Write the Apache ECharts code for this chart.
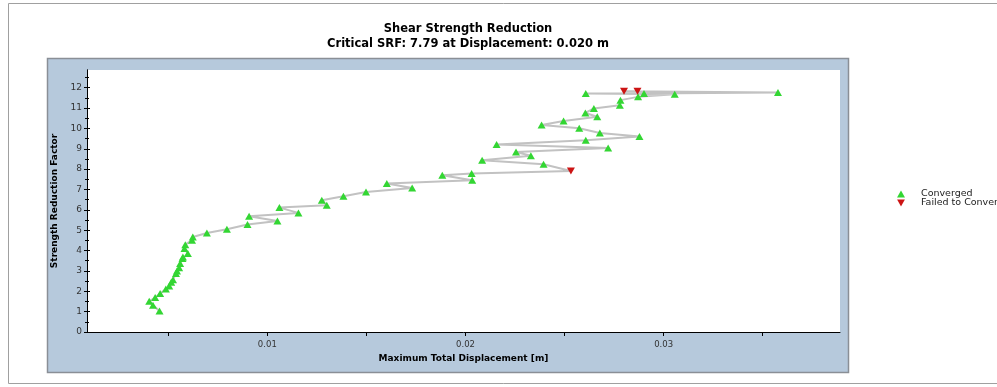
<!DOCTYPE html>
<html>
<head>
<meta charset="utf-8">
<script src="https://cdn.jsdelivr.net/npm/echarts@6/dist/echarts.min.js"></script>
<style>
  html, body { margin: 0; padding: 0; background: #ffffff; }
  #chart { width: 997px; height: 387px; }
</style>
</head>
<body>
<div id="chart"></div>
<script>
// Strength Reduction Factor (SRF) for each computed stage, in order
const srf = [1.03, 1.31, 1.51, 1.69, 1.89, 2.11, 2.26, 2.44, 2.57, 2.87,
             3.00, 3.16, 3.36, 3.61, 3.69, 3.85, 4.10, 4.29, 4.51, 4.67,
             4.86, 5.05, 5.28, 5.45, 5.69, 5.85, 6.11, 6.23, 6.47, 6.67,
             6.88, 7.07, 7.29, 7.45, 7.70, 7.79, 7.91, 8.24, 8.44, 8.66,
             8.84, 9.04, 9.21, 9.42, 9.60, 9.78, 10.01, 10.17, 10.36, 10.57,
             10.76, 10.98, 11.14, 11.39, 11.55, 11.68, 11.71, 11.72, 11.76, 11.83,
             11.83];
// Maximum total displacement [m] for each stage
const displacement = [0.00456, 0.00423, 0.00404, 0.00434, 0.00459, 0.00488, 0.00505, 0.00515, 0.00524, 0.00539,
                      0.00544, 0.00555, 0.00560, 0.00572, 0.00574, 0.00599, 0.00582, 0.00586, 0.00620, 0.00624,
                      0.00695, 0.00796, 0.00900, 0.01051, 0.00908, 0.01157, 0.01061, 0.01300, 0.01275, 0.01384,
                      0.01498, 0.01731, 0.01603, 0.02034, 0.01883, 0.02031, 0.02532, 0.02394, 0.02084, 0.02330,
                      0.02255, 0.02720, 0.02157, 0.02607, 0.02878, 0.02678, 0.02574, 0.02384, 0.02495, 0.02665,
                      0.02605, 0.02648, 0.02779, 0.02782, 0.02871, 0.03056, 0.02607, 0.02901, 0.03577, 0.02800,
                      0.02868];
// 1 = converged, 0 = failed to converge
const convergedFlag = [1,1,1,1,1,1,1,1,1,1,
                       1,1,1,1,1,1,1,1,1,1,
                       1,1,1,1,1,1,1,1,1,1,
                       1,1,1,1,1,1,0,1,1,1,
                       1,1,1,1,1,1,1,1,1,1,
                       1,1,1,1,1,1,1,1,1,0,
                       0];
const yTickValues = [0,1,2,3,4,5,6,7,8,9,10,11,12];
const xTickValues = [0.005, 0.01, 0.015, 0.02, 0.025, 0.03, 0.035];
const xLabelValues = [0.01, 0.02, 0.03];
const titleText = 'Shear Strength Reduction';
const subTitleText = 'Critical SRF: 7.79 at Displacement: 0.020 m';

const allPts = srf.map((s, i) => [displacement[i], s]);
const convPts = allPts.filter((p, i) => convergedFlag[i] === 1);
const failPts = allPts.filter((p, i) => convergedFlag[i] === 0);

const FONT = 'DejaVu Sans';
const chart = echarts.init(document.getElementById('chart'), null, { renderer: 'canvas' });

const commonY = {
  type: 'value', min: 0, max: 12.87, interval: 1, position: 'left',
  axisLine: { show: true, onZero: false, lineStyle: { color: '#000', width: 1 } },
  splitLine: { show: false },
  minorSplitLine: { show: false }
};

chart.setOption({
  animation: false,
  backgroundColor: '#ffffff',
  textStyle: { fontFamily: FONT },
  graphic: [
    { type: 'rect', z: -20, shape: { x: 8.5, y: 3.5, width: 1000, height: 380 },
      style: { fill: '#ffffff', stroke: '#a0a0a0', lineWidth: 1 } },
    { type: 'rect', z: -10, shape: { x: 47.5, y: 58.5, width: 801, height: 314 },
      style: { fill: '#b6c9dc', stroke: '#8a8f96', lineWidth: 1.5 } }
  ],
  title: [
    { text: titleText, left: 463, top: 18, textAlign: 'center',
      textStyle: { fontFamily: FONT, fontWeight: 'bold', fontSize: 11.5, color: '#000' } },
    { text: subTitleText, left: 463, top: 33, textAlign: 'center',
      textStyle: { fontFamily: FONT, fontWeight: 'bold', fontSize: 11.5, color: '#000' } }
  ],
  legend: {
    orient: 'vertical', left: 892, top: 184, itemWidth: 8, itemHeight: 7, itemGap: -1,
    textStyle: { fontFamily: FONT, fontSize: 9.5, lineHeight: 8, color: '#222', padding: [0, 0, 0, 11] },
    data: [
      { name: 'Converged', icon: 'triangle', itemStyle: { color: '#33d633' } },
      { name: 'Failed to Converge', icon: 'path://M0,0L10,0L5,9Z', itemStyle: { color: '#cc1414' } }
    ]
  },
  grid: { left: 87, right: 157, top: 70, bottom: 55, show: true,
          backgroundColor: '#ffffff', borderWidth: 0 },
  xAxis: {
    type: 'value', min: 0.0009, max: 0.0389,
    name: 'Maximum Total Displacement [m]', nameLocation: 'middle', nameGap: 22,
    nameTextStyle: { fontFamily: FONT, fontWeight: 'bold', fontSize: 9, color: '#000' },
    axisLine: { show: true, onZero: false, lineStyle: { color: '#000', width: 1 } },
    axisTick: { show: true, length: 4, customValues: xTickValues, lineStyle: { color: '#000' } },
    axisLabel: { show: true, customValues: xLabelValues, fontFamily: FONT, fontSize: 8.5, color: '#333', margin: 8,
                 formatter: v => v.toFixed(2) },
    splitLine: { show: false }
  },
  yAxis: [
    Object.assign({}, commonY, {
      name: 'Strength Reduction Factor', nameLocation: 'middle', nameGap: 20,
      nameTextStyle: { fontFamily: FONT, fontWeight: 'bold', fontSize: 9, color: '#000' },
      axisTick: { show: true, length: 3, customValues: yTickValues, lineStyle: { color: '#000' } },
      minorTick: { show: true, splitNumber: 2, length: 2, lineStyle: { color: '#000' } },
      axisLabel: { show: true, customValues: yTickValues, fontFamily: FONT, fontSize: 9, color: '#333', margin: 5 }
    }),
    Object.assign({}, commonY, {
      offset: 0,
      axisTick: { show: true, inside: true, length: 3, customValues: yTickValues, lineStyle: { color: '#000' } },
      minorTick: { show: true, splitNumber: 2, length: 2, lineStyle: { color: '#000' } },
      axisLabel: { show: false }
    })
  ],
  series: [
    { name: 'path', type: 'line', data: allPts, showSymbol: false, symbol: 'none',
      lineStyle: { color: '#c2c2c2', width: 2 }, z: 2, silent: true },
    { name: 'Converged', type: 'scatter', data: convPts, symbol: 'triangle', symbolSize: [8, 7],
      itemStyle: { color: '#33d633', opacity: 1 }, z: 3 },
    { name: 'Failed to Converge', type: 'scatter', data: failPts, symbol: 'triangle', symbolRotate: 180,
      symbolSize: [8, 7], itemStyle: { color: '#cc1414', opacity: 1 }, z: 4 }
  ]
});
</script>
</body>
</html>
